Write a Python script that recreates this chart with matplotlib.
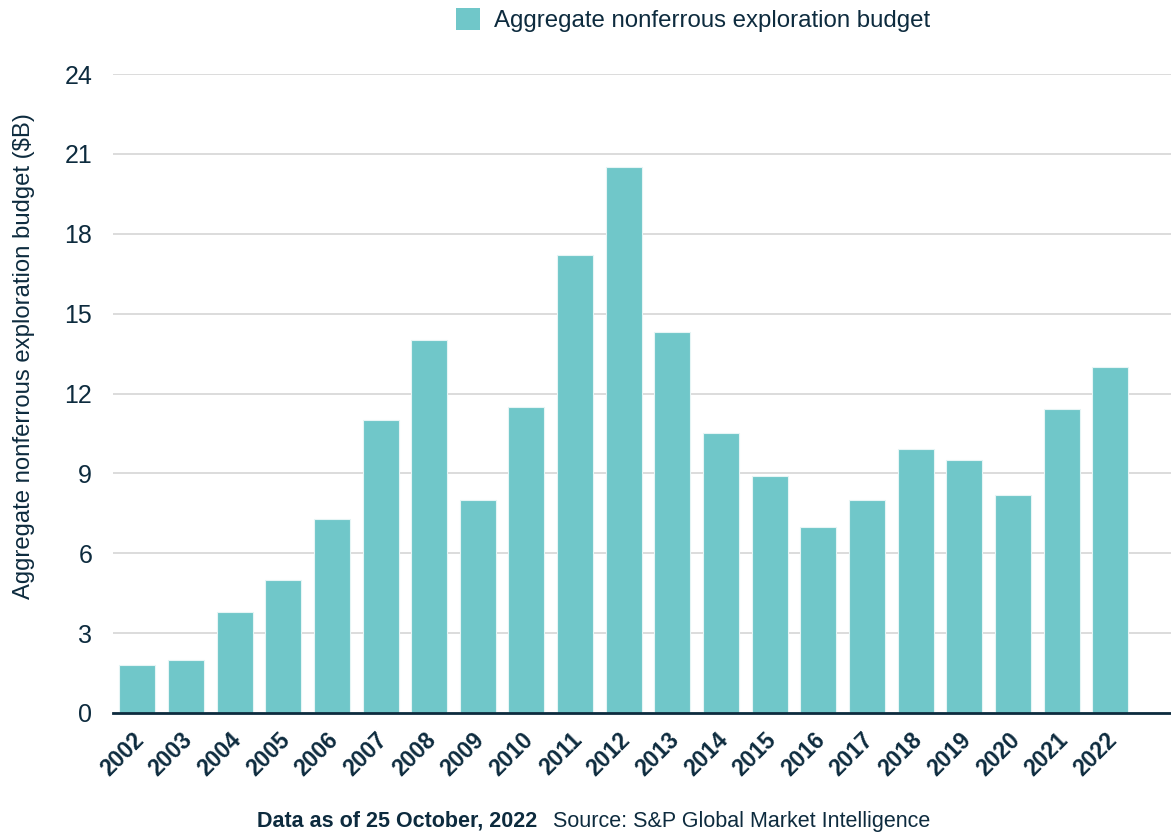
import matplotlib
matplotlib.use('Agg')
import matplotlib.pyplot as plt
import matplotlib.transforms as mtransforms
from matplotlib.patches import Patch

plt.rcParams['font.family'] = ['Liberation Sans', 'DejaVu Sans']

years = [str(y) for y in range(2002, 2023)]
budget = [1.8, 2.0, 3.8, 5.0, 7.3, 11.0, 14.0, 8.0, 11.5, 17.2, 20.5,
          14.3, 10.5, 8.9, 7.0, 8.0, 9.9, 9.5, 8.2, 11.4, 13.0]
y_ticks = [0, 3, 6, 9, 12, 15, 18, 21, 24]

bar_color = '#70C7C9'
text_color = '#0D2B3E'
grid_color = '#D9D9D9'

fig = plt.figure(figsize=(11.71, 8.32), dpi=100)
ax = fig.add_axes([113 / 1171, 1 - 713 / 832, 1 - 113 / 1171, (713 - 74) / 832])

x = range(len(years))
ax.bar(x, budget, width=0.74, color=bar_color, edgecolor='#E6F5F5', linewidth=0.8, zorder=3)

ax.set_ylim(0, 24)
ax.set_xlim(-0.5, 21.25)
ax.set_yticks(y_ticks)
ax.set_yticklabels([str(t) for t in y_ticks], fontsize=18, color=text_color)
ax.set_xticks(list(x))
ax.set_xticklabels(years, rotation=45, ha='right', rotation_mode='anchor',
                   fontsize=16.5, fontweight='bold', color=text_color)
ax.tick_params(axis='both', length=0)
ax.tick_params(axis='y', pad=15)
ax.tick_params(axis='x', pad=11)

# nudge rotated year labels a little to the left
shift = mtransforms.ScaledTranslation(-5 / 100, 0, fig.dpi_scale_trans)
for lbl in ax.get_xticklabels():
    lbl.set_transform(lbl.get_transform() + shift)

ax.grid(axis='y', color=grid_color, linewidth=1.3, zorder=0)
for s in ['top', 'right', 'left']:
    ax.spines[s].set_visible(False)
ax.spines['bottom'].set_color(text_color)
ax.spines['bottom'].set_linewidth(2)
ax.spines['bottom'].set_zorder(4)

ax.set_ylabel('Aggregate nonferrous exploration budget ($B)', fontsize=17.2,
              color=text_color)
ax.yaxis.set_label_coords(-(113 - 35) / 1058, (713 - 356) / 639)

handle = Patch(facecolor=bar_color, edgecolor='none')
fig.legend([handle], ['Aggregate nonferrous exploration budget'],
           loc='center', bbox_to_anchor=(693 / 1171, 1 - 20 / 832),
           frameon=False, fontsize=17.3, labelcolor=text_color,
           handlelength=1.0, handleheight=1.0, handletextpad=0.6)

fig.text(537 / 1171, 1 - 821 / 832, 'Data as of 25 October, 2022',
         fontsize=15.5, fontweight='bold', color=text_color, ha='right', va='center')
fig.text(553 / 1171, 1 - 821 / 832, 'Source: S&P Global Market Intelligence',
         fontsize=15.5, color=text_color, ha='left', va='center')

fig.savefig('out.png', dpi=100)
